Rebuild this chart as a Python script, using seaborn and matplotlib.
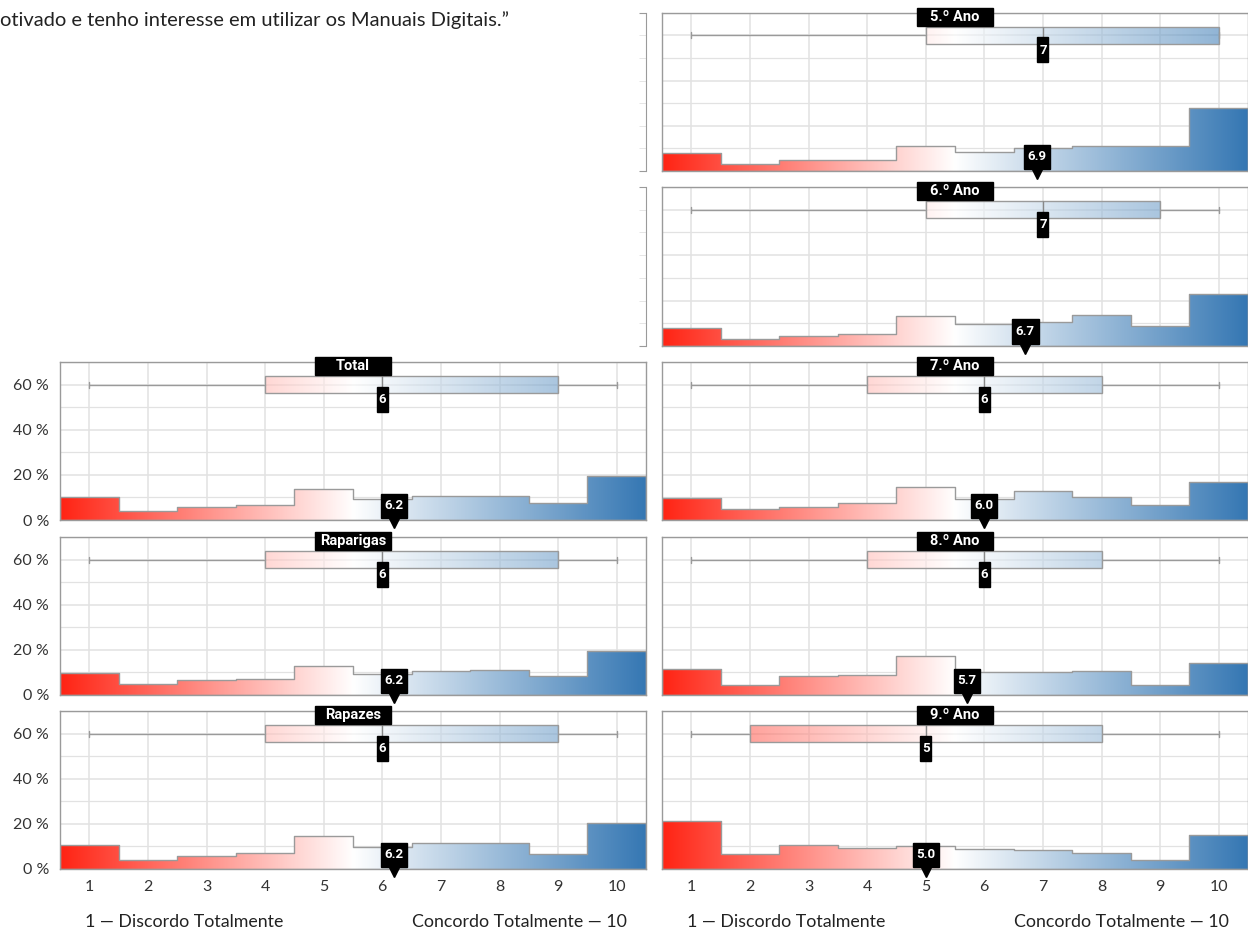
import numpy as np
import pandas as pd
import seaborn as sns
import matplotlib.pyplot as plt
from matplotlib.colors import LinearSegmentedColormap
from matplotlib.patches import Rectangle

sns.set_style("white")
plt.rcParams["font.family"] = ["Lato", "DejaVu Sans"]

# Escala de resposta 1..10
escala = np.arange(1, 11)

# Percentagem de respostas em cada valor da escala
grupos = ["Total", "Raparigas", "Rapazes",
          "5.º Ano", "6.º Ano", "7.º Ano", "8.º Ano", "9.º Ano"]
pct_total = [10.1, 4.1, 5.9, 6.8, 13.6, 9.3, 10.5, 10.8, 7.4, 19.7]
pct_raparigas = [9.9, 4.7, 6.8, 7.0, 13.0, 9.2, 10.5, 11.0, 8.6, 19.4]
pct_rapazes = [10.7, 3.9, 5.8, 7.0, 14.8, 9.9, 11.3, 11.3, 6.7, 20.4]
pct_5ano = [7.8, 3.0, 5.0, 4.9, 11.1, 8.3, 10.3, 11.2, 11.1, 28.0]
pct_6ano = [8.0, 3.1, 4.3, 5.2, 13.0, 9.9, 10.6, 13.6, 9.0, 22.9]
pct_7ano = [9.9, 5.0, 5.9, 7.7, 14.5, 9.3, 12.7, 10.1, 6.7, 16.9]
pct_8ano = [11.3, 4.4, 8.3, 8.7, 17.3, 10.4, 10.4, 10.5, 4.6, 14.1]
pct_9ano = [21.3, 6.7, 10.7, 9.2, 10.1, 8.7, 8.4, 7.0, 4.0, 15.0]
percentagens = [pct_total, pct_raparigas, pct_rapazes, pct_5ano,
                pct_6ano, pct_7ano, pct_8ano, pct_9ano]

# Estatísticas das caixas e médias
bigode_min = [1, 1, 1, 1, 1, 1, 1, 1]
q1 = [4, 4, 4, 5, 5, 4, 4, 2]
medianas = [6, 6, 6, 7, 7, 6, 6, 5]
q3 = [9, 9, 9, 10, 9, 8, 8, 8]
bigode_max = [10, 10, 10, 10, 10, 10, 10, 10]
medias = [6.2, 6.2, 6.2, 6.9, 6.7, 6.0, 5.7, 5.0]

titulo = "otivado e tenho interesse em utilizar os Manuais Digitais.\u201d"
rotulo_esq = "1 \u2014 Discordo Totalmente"
rotulo_dir = "Concordo Totalmente \u2014 10"

#----------------------------------------------------------------------------
W, H = 1248, 934
fig = plt.figure(figsize=(W / 100, H / 100), dpi=100)

col_x = [60, 662]
largura = 586
linhas = [(12.7, 171), (187, 346), (362, 520), (537, 695), (711, 869)]
# (coluna, linha) de cada grupo
posicao = [(0, 2), (0, 3), (0, 4), (1, 0), (1, 1), (1, 2), (1, 3), (1, 4)]


def cria_eixo(col, lin):
    topo, base = linhas[lin]
    return fig.add_axes([col_x[col] / W, 1 - base / H, largura / W, (base - topo) / H])


cmap = LinearSegmentedColormap.from_list("rwb", ["#ff2414", "#ffffff", "#3577b3"])
gradiente = np.linspace(0, 1, 256).reshape(1, -1)
cinza = "#9a9a9a"
grelha = "#e2e2e2"
fonte_rotulo = ["Roboto", "DejaVu Sans"]

# Eixos vazios da coluna esquerda (só a lombada direita)
for lin in [0, 1]:
    ax = cria_eixo(0, lin)
    ax.set_facecolor("none")
    for s in ["left", "top", "bottom"]:
        ax.spines[s].set_visible(False)
    ax.spines["right"].set_color(cinza)
    ax.set_ylim(0, 70)
    ax.set_xticks([])
    ax.yaxis.tick_right()
    ax.set_yticks([0, 70])
    ax.set_yticks(np.arange(10, 70, 10), minor=True)
    ax.tick_params(axis="y", which="major", direction="in", length=5,
                   color=cinza, labelright=False)
    ax.tick_params(axis="y", which="minor", direction="in", length=5,
                   color=grelha, labelright=False)

for g, nome in enumerate(grupos):
    col, lin = posicao[g]
    ax = cria_eixo(col, lin)
    df = pd.DataFrame({"nota": escala, "pct": percentagens[g]})

    # Histograma em degraus, preenchido com gradiente
    sns.histplot(data=df, x="nota", weights="pct", discrete=True,
                 element="step", fill=True, color=cinza, linewidth=1, ax=ax)
    poly = ax.collections[-1]
    poly.set_facecolor("none")
    poly.set_edgecolor(cinza)
    poly.set_zorder(3)
    im = ax.imshow(gradiente, cmap=cmap, extent=[0.5, 10.5, 0, 70],
                   aspect="auto", origin="lower", zorder=2)
    im.set_clip_path(poly.get_paths()[0], transform=ax.transData)

    # Caixa de bigodes
    stats = [{"whislo": bigode_min[g], "q1": q1[g], "med": medianas[g],
              "q3": q3[g], "whishi": bigode_max[g], "fliers": []}]
    bp = ax.bxp(stats, positions=[60], widths=7.3, orientation="horizontal",
                patch_artist=True, showfliers=False, manage_ticks=False,
                capwidths=2.6,
                boxprops=dict(facecolor="none", edgecolor=cinza, linewidth=1),
                whiskerprops=dict(color=cinza, linewidth=1),
                capprops=dict(color=cinza, linewidth=1),
                medianprops=dict(color="#888888", linewidth=1))
    for art in bp["boxes"] + bp["whiskers"] + bp["caps"] + bp["medians"]:
        art.set_zorder(4)
    im2 = ax.imshow(gradiente, cmap=cmap, extent=[0.5, 10.5, 0, 70],
                    aspect="auto", origin="lower", zorder=3, alpha=0.6)
    im2.set_clip_path(bp["boxes"][0].get_path(), transform=ax.transData)

    # Rótulo da mediana
    txt = f"{medianas[g]}"
    w = 0.06 + 0.13 * len(txt)
    ax.add_patch(Rectangle((medianas[g] - w / 2, 48), w, 11.1, color="black",
                           zorder=6))
    ax.text(medianas[g], 53.5, txt, color="white", ha="center", va="center",
            fontsize=9.5, fontweight="bold", family=fonte_rotulo, zorder=7)

    # Rótulo da média
    txt = f"{medias[g]:.1f}"
    w = 0.06 + 0.13 * len(txt)
    ax.add_patch(Rectangle((medias[g] - w / 2, 1.0), w, 10.7, color="black",
                           zorder=6))
    ax.text(medias[g], 6.4, txt, color="white", ha="center", va="center",
            fontsize=9.5, fontweight="bold", family=fonte_rotulo, zorder=7)
    ax.plot([medias[g]], [-1.2], marker="v", ms=7, color="black",
            clip_on=False, zorder=7)

    # Título do painel numa caixa preta
    ax.add_patch(Rectangle((0.436, 0.918), 0.128, 0.114, transform=ax.transAxes,
                           color="black", clip_on=False, zorder=8))
    ax.text(0.5, 0.975, nome, transform=ax.transAxes, color="white",
            ha="center", va="center", fontsize=10.5, fontweight="bold",
            family=fonte_rotulo, zorder=9)

    # Eixos
    ax.set_xlim(0.5, 10.5)
    ax.set_ylim(0, 70)
    ax.set_xlabel("")
    ax.set_ylabel("")
    ax.set_xticks(escala)
    ax.set_yticks([0, 20, 40, 60])
    ax.set_yticks([10, 30, 50, 70], minor=True)
    ax.grid(True, which="major", color=grelha, linewidth=1.1, zorder=0)
    ax.grid(True, which="minor", axis="y", color=grelha, linewidth=0.9, zorder=0)
    ax.set_axisbelow(True)
    for s in ax.spines.values():
        s.set_color(cinza)
        s.set_linewidth(1)
    ax.tick_params(axis="x", length=0, pad=8, labelsize=11.5, labelcolor="#333333")
    ax.tick_params(axis="y", which="major", length=5, color=grelha, pad=3,
                   labelsize=11.5, labelcolor="#333333")
    ax.tick_params(axis="y", which="minor", length=0)
    if col == 0:
        ax.set_yticklabels([f"{v} %" for v in [0, 20, 40, 60]])
    else:
        ax.tick_params(axis="y", which="major", length=0, labelleft=False)
    if lin != 4:
        ax.tick_params(axis="x", labelbottom=False)

# Textos da escala
for cx in col_x:
    fig.text((cx + 25) / W, 1 - 922 / H, rotulo_esq, ha="left", va="center",
             fontsize=12.8, color="#222222")
    fig.text((cx + 567) / W, 1 - 922 / H, rotulo_dir, ha="right", va="center",
             fontsize=12.8, color="#222222")

fig.text(0, 1 - 20 / H, titulo, ha="left", va="center", fontsize=14.5,
         color="#222222")

plt.savefig("out.png", dpi=100)
